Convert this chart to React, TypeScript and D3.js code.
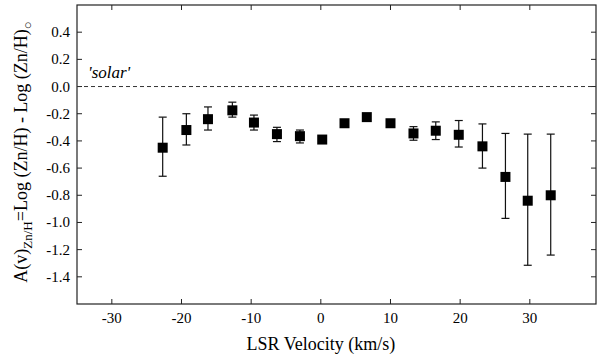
import React from 'react';
import * as d3 from 'd3';

// velocity (km/s), zinc depletion and the ends of the error bars
const velocity = [-22.7, -19.3, -16.2, -12.7, -9.6, -6.3, -3.0, 0.2, 3.4, 6.6, 10.0, 13.3, 16.5, 19.8, 23.2, 26.5, 29.7, 33.0];
const depletion = [-0.45, -0.32, -0.24, -0.175, -0.265, -0.35, -0.365, -0.39, -0.27, -0.225, -0.27, -0.345, -0.325, -0.355, -0.44, -0.665, -0.84, -0.8];
const errUpper = [-0.225, -0.2, -0.15, -0.115, -0.21, -0.3, -0.32, -0.39, -0.27, -0.225, -0.27, -0.295, -0.26, -0.25, -0.275, -0.345, -0.35, -0.35];
const errLower = [-0.66, -0.43, -0.32, -0.225, -0.32, -0.405, -0.415, -0.39, -0.27, -0.225, -0.27, -0.395, -0.39, -0.445, -0.6, -0.97, -1.315, -1.24];

const xTicks = [-30, -20, -10, 0, 10, 20, 30];
const yTicks = [0.4, 0.2, 0.0, -0.2, -0.4, -0.6, -0.8, -1.0, -1.2, -1.4];

const W = 597;
const H = 356;
const left = 77, right = 596, top = 5, bottom = 304;
const font = "'Liberation Serif', 'Times New Roman', Times, 'DejaVu Serif', serif";
const hyphen = (s: string) => s.replace('\u2212', '-');

export default function App() {
  const x = d3.scaleLinear().domain([-35, 39.5]).range([left, right]);
  const y = d3.scaleLinear().domain([-1.6, 0.6]).range([bottom, top]);
  const tick = 5;
  const box = 10;
  const cap = 4;

  return (
    <svg width={W} height={H} style={{position: 'absolute', left: 0, top: 0, background: '#fff', fontFamily: font}}>
      {/* frame */}
      <rect x={left} y={top} width={right - left} height={bottom - top} fill="none" stroke="#222" strokeWidth={1.2}/>

      {/* ticks, all inward */}
      {xTicks.map(t => (
        <g key={'xt' + t}>
          <line x1={x(t)} x2={x(t)} y1={bottom} y2={bottom - tick} stroke="#222"/>
          <line x1={x(t)} x2={x(t)} y1={top} y2={top + tick} stroke="#222"/>
          <text x={x(t)} y={323} textAnchor="middle" style={{fontFamily: font}} fontSize={15}>{hyphen(d3.format('d')(t))}</text>
        </g>
      ))}
      {yTicks.map(t => (
        <g key={'yt' + t}>
          <line x1={left} x2={left + tick} y1={y(t)} y2={y(t)} stroke="#222"/>
          <line x1={right} x2={right - tick} y1={y(t)} y2={y(t)} stroke="#222"/>
          <text x={70} y={y(t) + 5} textAnchor="end" style={{fontFamily: font}} fontSize={15}>{hyphen(d3.format('.1f')(t))}</text>
        </g>
      ))}

      {/* solar reference */}
      <line x1={left} x2={right} y1={y(0)} y2={y(0)} stroke="#333" strokeWidth={1} strokeDasharray="4,3"/>
      <text x={88} y={78} style={{fontFamily: font}} fontStyle="italic" fontSize={17}>'solar'</text>

      {/* error bars */}
      {velocity.map((v, i) => {
        if (errUpper[i] === errLower[i]) return null;
        const cx = x(v);
        return (
          <g key={'e' + i} stroke="#111" strokeWidth={1.2}>
            <line x1={cx} x2={cx} y1={y(errUpper[i])} y2={y(errLower[i])}/>
            <line x1={cx - cap} x2={cx + cap} y1={y(errUpper[i])} y2={y(errUpper[i])}/>
            <line x1={cx - cap} x2={cx + cap} y1={y(errLower[i])} y2={y(errLower[i])}/>
          </g>
        );
      })}

      {/* points */}
      {velocity.map((v, i) => (
        <rect key={'p' + i} x={x(v) - box / 2} y={y(depletion[i]) - box / 2} width={box} height={box} fill="#000"/>
      ))}

      {/* axis titles */}
      <text x={x(0)} y={350} textAnchor="middle" style={{fontFamily: font}} fontSize={18}>LSR Velocity (km/s)</text>
      <text transform={`translate(27,${152}) rotate(-90)`} textAnchor="middle" style={{fontFamily: font}} fontSize={18}>
        A(v)<tspan fontSize={13} dy={5}>Zn/H</tspan><tspan dy={-5}>=Log (Zn/H) - Log (Zn/H)</tspan><tspan fontSize={13} dy={5}>○</tspan>
      </text>
    </svg>
  );
}
